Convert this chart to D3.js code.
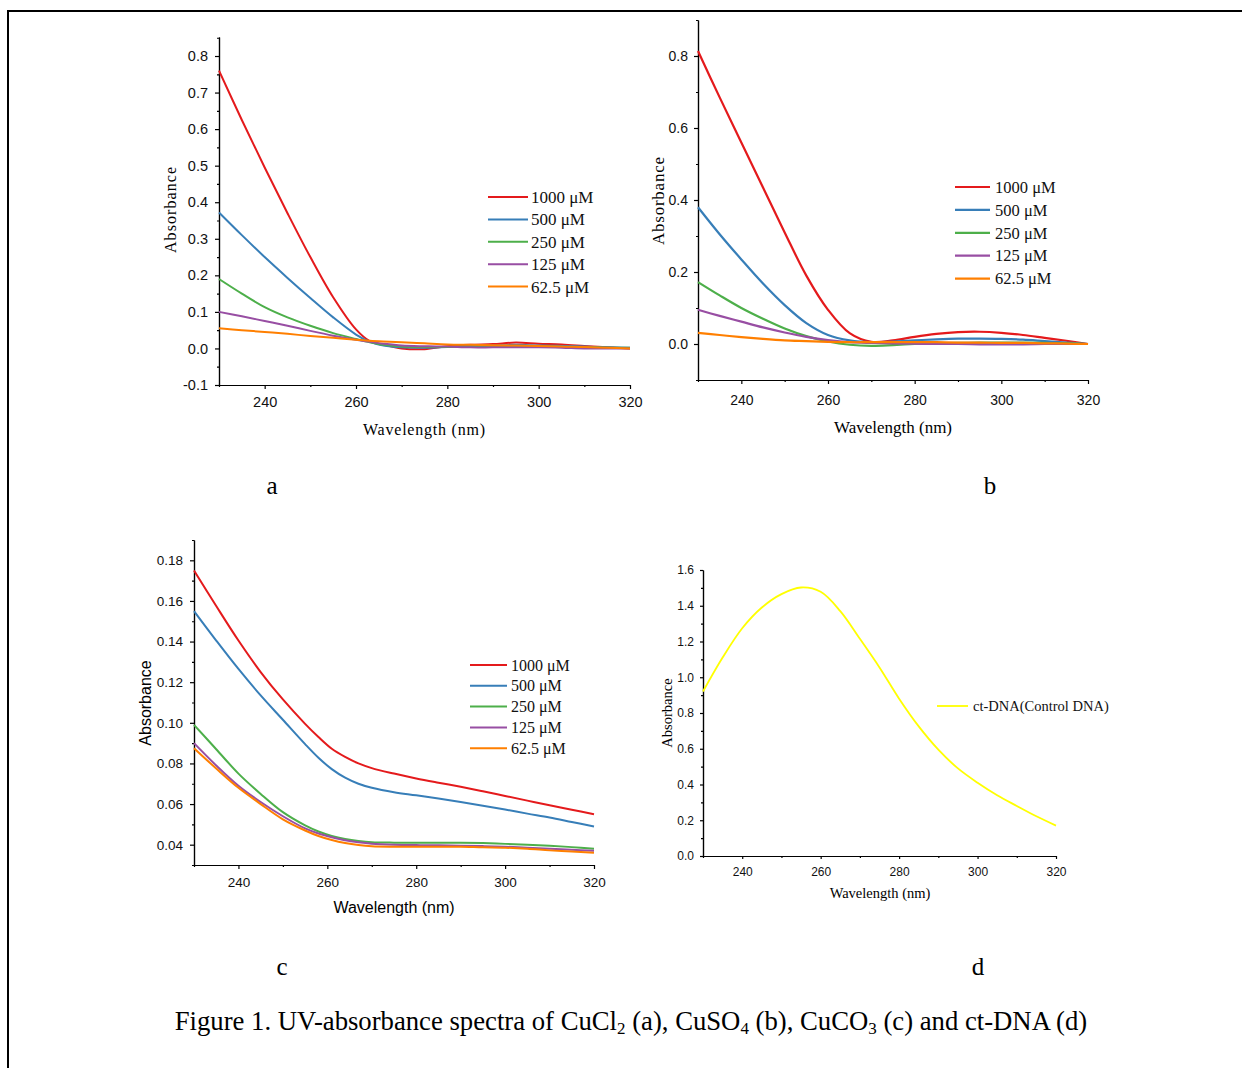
<!DOCTYPE html>
<html>
<head>
<meta charset="utf-8">
<script src="https://cdn.jsdelivr.net/npm/d3@7"></script>
<style>
  body { margin: 0; background: #fff; }
  svg { display: block; }
</style>
</head>
<body>
<svg id="fig" width="1242" height="1068"></svg>
<script>
// series names and colours shared by panels a-c
var concLabels = ["1000 μM", "500 μM", "250 μM", "125 μM", "62.5 μM"];
var concColors = ["#e41a1c", "#377eb8", "#4daf4a", "#984ea3", "#ff7f00"];

// (a) CuCl2
var wlA = [230, 235, 240, 245, 250, 255, 260, 263, 266, 270, 275, 280, 285, 290, 295, 300, 305, 310, 315, 320];
var aAbs1000 = [0.76, 0.625, 0.495, 0.37, 0.25, 0.14, 0.052, 0.02, 0.01, 0.0, -0.002, 0.006, 0.01, 0.012, 0.016, 0.013, 0.011, 0.007, 0.003, 0.0];
var aAbs500  = [0.372, 0.31, 0.25, 0.193, 0.138, 0.085, 0.038, 0.018, 0.008, 0.003, 0.002, 0.004, 0.006, 0.008, 0.01, 0.008, 0.007, 0.005, 0.003, 0.002];
var aAbs250  = [0.19, 0.15, 0.113, 0.085, 0.062, 0.042, 0.026, 0.017, 0.01, 0.005, 0.004, 0.004, 0.005, 0.005, 0.006, 0.005, 0.004, 0.003, 0.002, 0.002];
var aAbs125  = [0.1, 0.088, 0.075, 0.062, 0.048, 0.035, 0.024, 0.018, 0.013, 0.008, 0.006, 0.005, 0.003, 0.003, 0.003, 0.003, 0.002, 0.0, 0.0, 0.0];
var aAbs62   = [0.055, 0.05, 0.045, 0.04, 0.034, 0.029, 0.024, 0.021, 0.019, 0.017, 0.014, 0.011, 0.01, 0.009, 0.008, 0.007, 0.005, 0.004, 0.002, 0.0];

// (b) CuSO4
var wlB = [230, 235, 240, 245, 250, 255, 260, 265, 270, 275, 280, 285, 290, 295, 300, 305, 310, 315, 320];
var bAbs1000 = [0.814, 0.685, 0.56, 0.435, 0.31, 0.19, 0.095, 0.03, 0.006, 0.01, 0.02, 0.028, 0.033, 0.034, 0.031, 0.025, 0.017, 0.009, 0.0];
var bAbs500  = [0.38, 0.305, 0.235, 0.168, 0.108, 0.058, 0.025, 0.01, 0.005, 0.007, 0.01, 0.013, 0.015, 0.015, 0.014, 0.012, 0.008, 0.004, 0.0];
var bAbs250  = [0.172, 0.135, 0.1, 0.07, 0.043, 0.022, 0.007, -0.002, -0.005, -0.003, 0.0, 0.002, 0.003, 0.004, 0.004, 0.004, 0.003, 0.002, 0.0];
var bAbs125  = [0.095, 0.078, 0.062, 0.046, 0.032, 0.02, 0.011, 0.005, 0.003, 0.002, 0.001, 0.0, 0.0, -0.001, -0.001, -0.001, 0.0, 0.0, 0.0];
var bAbs62   = [0.031, 0.025, 0.019, 0.014, 0.01, 0.008, 0.006, 0.005, 0.005, 0.005, 0.005, 0.005, 0.004, 0.004, 0.003, 0.003, 0.002, 0.001, 0.0];

// (c) CuCO3
var wlC = [230, 235, 240, 245, 250, 255, 258, 261, 264, 267, 270, 275, 280, 285, 290, 295, 300, 305, 310, 315, 320];
var cAbs1000 = [0.175, 0.1575, 0.1405, 0.125, 0.1115, 0.0995, 0.093, 0.0872, 0.0832, 0.08, 0.0777, 0.075, 0.0726, 0.0705, 0.0685, 0.0663, 0.064, 0.0617, 0.0594, 0.0572, 0.055];
var cAbs500  = [0.155, 0.1405, 0.1265, 0.1135, 0.1015, 0.0895, 0.0828, 0.0772, 0.073, 0.07, 0.068, 0.0658, 0.0643, 0.0627, 0.061, 0.0592, 0.0573, 0.0553, 0.0534, 0.0512, 0.049];
var cAbs250  = [0.099, 0.087, 0.075, 0.065, 0.056, 0.0495, 0.0465, 0.0443, 0.0428, 0.0418, 0.0412, 0.041, 0.041, 0.041, 0.041, 0.0408, 0.0404, 0.04, 0.0395, 0.0388, 0.038];
var cAbs125  = [0.09, 0.079, 0.069, 0.061, 0.054, 0.048, 0.0455, 0.0437, 0.0422, 0.0412, 0.0405, 0.04, 0.0398, 0.0397, 0.0395, 0.0393, 0.039, 0.0385, 0.038, 0.0375, 0.037];
var cAbs62   = [0.0875, 0.0775, 0.068, 0.06, 0.0525, 0.047, 0.0443, 0.0423, 0.0408, 0.0398, 0.0392, 0.039, 0.039, 0.039, 0.039, 0.0387, 0.0385, 0.038, 0.0372, 0.0366, 0.036];

// (d) ct-DNA
var wlD = [230, 235, 240, 245, 250, 255, 260, 265, 270, 275, 280, 285, 290, 295, 300, 305, 310, 315, 320];
var dnaAbs = [0.92, 1.11, 1.274, 1.39, 1.465, 1.502, 1.478, 1.37, 1.215, 1.055, 0.88, 0.725, 0.595, 0.49, 0.41, 0.34, 0.28, 0.222, 0.17];
var dnaLabel = "ct-DNA(Control DNA)";

// ticks
var xMajor = [240, 260, 280, 300, 320];
var xMinor = [230, 250, 270, 290, 310];
var aYMajor = [-0.1, 0, 0.1, 0.2, 0.3, 0.4, 0.5, 0.6, 0.7, 0.8];
var aYMinor = [-0.05, 0.05, 0.15, 0.25, 0.35, 0.45, 0.55, 0.65, 0.75, 0.85];
var bYMajor = [0, 0.2, 0.4, 0.6, 0.8];
var bYMinor = [-0.1, 0.1, 0.3, 0.5, 0.7, 0.9];
var cYMajor = [0.04, 0.06, 0.08, 0.10, 0.12, 0.14, 0.16, 0.18];
var cYMinor = [0.03, 0.05, 0.07, 0.09, 0.11, 0.13, 0.15, 0.17, 0.19];
var dYMajor = [0, 0.2, 0.4, 0.6, 0.8, 1.0, 1.2, 1.4, 1.6];
var dYMinor = [0.1, 0.3, 0.5, 0.7, 0.9, 1.1, 1.3, 1.5];

var SERIF = "'Liberation Serif','Times New Roman',serif";
var SANS = "'Liberation Sans',Arial,sans-serif";

var svg = d3.select("#fig");

// frame of the figure box (only top and left edges show)
svg.append("path")
  .attr("d", "M8,1068V11H1242")
  .attr("fill", "none")
  .attr("stroke", "#000")
  .attr("stroke-width", 2);

function drawPanel(p) {
  var g = svg.append("g");
  var x = d3.scaleLinear().domain([230, 320]).range(p.xRange);
  var y = d3.scaleLinear().domain(p.yDomain).range(p.yRange);

  // minor ticks first, then majors with labels
  g.append("g")
    .attr("transform", "translate(0," + p.yRange[0] + ")")
    .call(d3.axisBottom(x).tickValues(xMinor).tickSize(p.minor).tickSizeOuter(0).tickFormat(""));
  g.append("g")
    .attr("transform", "translate(" + p.xRange[0] + ",0)")
    .call(d3.axisLeft(y).tickValues(p.yMinor).tickSize(p.minor).tickSizeOuter(0).tickFormat(""));

  g.append("g")
    .attr("transform", "translate(0," + p.yRange[0] + ")")
    .call(d3.axisBottom(x).tickValues(xMajor).tickSize(p.major).tickSizeOuter(0).tickPadding(p.xPad));
  var ya = g.append("g")
    .attr("transform", "translate(" + p.xRange[0] + ",0)")
    .call(d3.axisLeft(y).tickValues(p.yMajor).tickSize(p.major).tickSizeOuter(0).tickPadding(p.yPad));

  g.selectAll(".domain, .tick line").attr("stroke", "#000").attr("stroke-width", 1.2);
  g.selectAll(".tick text")
    .attr("fill", "#111")
    .style("font-family", SANS)
    .style("font-size", p.tickFont + "px");
  ya.selectAll(".tick text").text(function (d) { return d3.format(p.fmt)(d).replace("−", "-"); });

  // axis titles
  var yt = g.append("text")
    .attr("transform", "translate(" + p.yLabel[0] + "," + p.yLabel[1] + ") rotate(-90)")
    .attr("text-anchor", "middle")
    .attr("dy", "0.35em")
    .style("font-family", p.titleFamily)
    .style("font-size", p.titleFont + "px")
    .text("Absorbance");
  var xt = g.append("text")
    .attr("x", p.xLabel[0])
    .attr("y", p.xLabel[1])
    .attr("text-anchor", "middle")
    .attr("dy", "0.35em")
    .style("font-family", p.titleFamily)
    .style("font-size", p.titleFont + "px")
    .text("Wavelength (nm)");
  if (p.yLabelLen) yt.attr("textLength", p.yLabelLen).attr("lengthAdjust", "spacing");
  if (p.xLabelLen) xt.attr("textLength", p.xLabelLen).attr("lengthAdjust", "spacing");

  var line = d3.line()
    .x(function (d, i) { return x(p.wl[i]); })
    .y(function (d) { return y(d); })
    .curve(d3.curveCatmullRom.alpha(0.5));

  g.append("g").selectAll("path")
    .data(p.series)
    .join("path")
    .attr("fill", "none")
    .attr("stroke", function (d, i) { return p.colors[i]; })
    .attr("stroke-width", p.lineWidth)
    .attr("d", line);

  // legend
  var lg = g.append("g").selectAll("g")
    .data(p.labels)
    .join("g")
    .attr("transform", function (d, i) { return "translate(0," + (p.legend.y + i * p.legend.dy) + ")"; });
  lg.append("line")
    .attr("x1", p.legend.x1).attr("x2", p.legend.x2)
    .attr("stroke", function (d, i) { return p.colors[i]; })
    .attr("stroke-width", p.lineWidth);
  lg.append("text")
    .attr("x", p.legend.tx)
    .attr("dy", "0.35em")
    .style("font-family", SERIF)
    .style("font-size", p.legend.font + "px")
    .attr("fill", "#111")
    .text(function (d) { return d; });
}

drawPanel({
  wl: wlA, series: [aAbs1000, aAbs500, aAbs250, aAbs125, aAbs62],
  colors: concColors, labels: concLabels,
  xRange: [219, 630], yDomain: [-0.1, 0.852], yRange: [385, 37],
  yMajor: aYMajor, yMinor: aYMinor, fmt: ".1f",
  major: 4, minor: 2, xPad: 8, yPad: 7, tickFont: 14.5,
  titleFamily: SERIF, titleFont: 16, yLabel: [170, 210], xLabel: [424, 429],
  yLabelLen: 86, xLabelLen: 122,
  lineWidth: 2,
  legend: { x1: 488, x2: 528, tx: 531, y: 197, dy: 22.4, font: 17 }
});

drawPanel({
  wl: wlB, series: [bAbs1000, bAbs500, bAbs250, bAbs125, bAbs62],
  colors: concColors, labels: concLabels,
  xRange: [698, 1088], yDomain: [-0.1, 0.9], yRange: [380, 20],
  yMajor: bYMajor, yMinor: bYMinor, fmt: ".1f",
  major: 4, minor: 2, xPad: 11, yPad: 6, tickFont: 14,
  titleFamily: SERIF, titleFont: 17, yLabel: [658, 201], xLabel: [893, 427],
  yLabelLen: 88,
  lineWidth: 2.2,
  legend: { x1: 955, x2: 990, tx: 995, y: 187, dy: 22.9, font: 16.5 }
});

drawPanel({
  wl: wlC, series: [cAbs1000, cAbs500, cAbs250, cAbs125, cAbs62],
  colors: concColors, labels: concLabels,
  xRange: [194, 594], yDomain: [0.03, 0.19], yRange: [865, 540],
  yMajor: cYMajor, yMinor: cYMinor, fmt: ".2f",
  major: 4, minor: 2, xPad: 8, yPad: 7, tickFont: 13.5,
  titleFamily: SANS, titleFont: 16, yLabel: [145, 703], xLabel: [394, 907],
  lineWidth: 2,
  legend: { x1: 470, x2: 507, tx: 511, y: 665, dy: 20.8, font: 16 }
});

drawPanel({
  wl: wlD, series: [dnaAbs],
  colors: ["#ffff00"], labels: [dnaLabel],
  xRange: [703, 1056], yDomain: [0, 1.6], yRange: [856, 570],
  yMajor: dYMajor, yMinor: dYMinor, fmt: ".1f",
  major: 3, minor: 2, xPad: 8, yPad: 6, tickFont: 12,
  titleFamily: SERIF, titleFont: 14.5, yLabel: [667, 713], xLabel: [880, 893],
  lineWidth: 1.8,
  legend: { x1: 937, x2: 968, tx: 973, y: 706, dy: 0, font: 14.5 }
});

// panel letters
var letters = [["a", 272, 485], ["b", 990, 485], ["c", 282, 966], ["d", 978, 966]];
svg.selectAll("text.letter")
  .data(letters)
  .join("text")
  .attr("class", "letter")
  .attr("x", function (d) { return d[1]; })
  .attr("y", function (d) { return d[2]; })
  .attr("dy", "0.35em")
  .attr("text-anchor", "middle")
  .style("font-family", SERIF)
  .style("font-size", "25px")
  .text(function (d) { return d[0]; });

// caption with subscripts
var caption = svg.append("text")
  .attr("x", 631)
  .attr("y", 1030)
  .attr("text-anchor", "middle")
  .style("font-family", SERIF)
  .style("font-size", "26.7px");
var parts = [
  ["Figure 1. UV-absorbance spectra of CuCl", false], ["2", true],
  [" (a), CuSO", false], ["4", true],
  [" (b), CuCO", false], ["3", true],
  [" (c) and ct-DNA (d)", false]
];
parts.forEach(function (t, i) {
  var ts = caption.append("tspan").text(t[0]);
  if (t[1]) ts.attr("font-size", "17px").attr("dy", "4");
  else if (i > 0) ts.attr("dy", "-4");
});
</script>
</body>
</html>
